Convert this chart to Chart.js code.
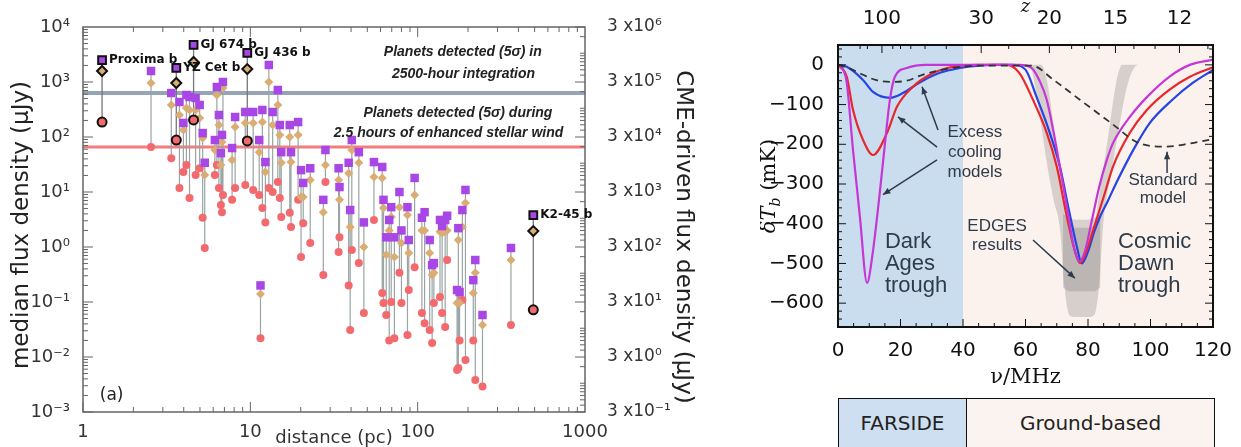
<!DOCTYPE html>
<html lang="en">
<head>
<meta charset="UTF-8" />
<title>Exoplanet radio flux and the 21-cm troughs</title>
<script src="https://cdn.jsdelivr.net/npm/chart.js"></script>
<style>
  body {
    margin: 0;
    width: 1241px;
    height: 447px;
    overflow: hidden;
    position: relative;
    background: #fff;
    font-family: "DejaVu Sans", sans-serif;
  }
  #fluxChart { position: absolute; left: 0; top: 0; }
  #tbChart { position: absolute; left: 760px; top: 0; }
  #bandBox {
    position: absolute;
    left: 838px; top: 398px;
    width: 377px; height: 60px;
    border: 1.5px solid #111;
    box-sizing: border-box;
    display: flex;
    font-size: 20px;
    color: #222;
  }
  #bandBox div { display: flex; justify-content: center; padding-top: 12px; }
  #farside { width: 127px; background: #cddff0; border-right: 1.5px solid #111; }
  #ground { flex: 1; background: #fbf3ef; }
</style>
</head>
<body>

<canvas id="fluxChart" width="720" height="447"></canvas>
<canvas id="tbChart" width="481" height="400"></canvas>

<!-- frequency bands covered by each experiment -->
<div id="bandBox">
  <div id="farside">FARSIDE</div>
  <div id="ground">Ground-based</div>
</div>

<script>
// ---------- left panel: planet radio flux vs distance ----------
const planetDist = [2.55, 3.37, 3.77, 3.98, 4.15, 4.33, 4.71, 4.98, 5.19, 5.34,
  6.14, 6.31, 6.49, 6.67, 6.77, 6.86, 7.78, 8.11, 9.33, 10.4,
  11.3, 11.5, 11.8, 12.3, 12.9, 13.6, 14.6, 15.0, 15.3, 17.2,
  17.5, 19.3, 20.1, 20.7, 22.8, 27.3, 28.1, 33.7, 34.1, 38.7,
  39.5, 40.4, 44.5, 47.7, 54.8, 61.4, 62.5, 64.9, 67.6, 69.5,
  72.6, 77.8, 80.0, 86.9, 88.5, 95.9, 106, 110, 118, 122,
  125, 136, 140, 146, 150, 172, 175, 178, 185, 193,
  215, 221, 244, 361];
const fluxHigh = [1585, 631, 433, 180, 580, 534, 512, 382, 118, 34,
  88, 811, 251, 51, 109, 1000, 63, 231, 285, 285,
  88, 0.20, 310, 35, 2040, 285, 716, 165, 53, 165,
  53, 187, 25, 14.6, 27, 7.2, 58, 27, 12.3, 34,
  4.7, 88, 53, 2.8, 35, 28.5, 7.2, 1.5, 3.1, 5.3,
  1.5, 10, 2.0, 5.3, 1.34, 18, 3.4, 4.3, 1.34, 0.47,
  0.51, 3.1, 2.4, 3.1, 3.7, 0.165, 2.2, 0.152, 4.7, 10.9,
  0.25, 0.58, 0.058, 0.96];
const fluxMid = [959, 382, 251, 134, 337, 310, 310, 222, 96, 20.4,
  58, 580, 165, 31, 81, 778, 38, 152, 180, 180,
  53, 0.14, 187, 23, 1000, 165, 382, 109, 34, 100,
  35, 109, 8.1, 8.1, 16.5, 4.3, 31, 16.5, 7.2, 22,
  2.3, 58, 34, 1.0, 18.7, 18, 5.1, 0.72, 2.0, 3.5,
  0.66, 5.3, 1.18, 3.8, 0.78, 8.8, 2.0, 2.0, 0.78, 0.31,
  0.34, 1.9, 1.8, 1.9, 2.0, 0.096, 1.34, 0.096, 2.3, 6.3,
  0.146, 0.34, 0.038, 0.58];
const fluxLow = [66, 41, 11.8, 23, 31, 7.8, 20.4, 27, 3.4, 0.96,
  20.4, 31, 11.8, 5.8, 4.3, 8.8, 7.2, 11.8, 13.4, 10.9,
  8.8, 0.022, 5.1, 2.8, 11.8, 10, 15.2, 7.8, 3.5, 4.2,
  2.3, 7.2, 0.66, 2.7, 1.18, 0.31, 15.2, 0.81, 1.5, 0.20,
  0.031, 0.88, 0.51, 0.063, 3.1, 0.146, 0.096, 0.058, 0.020, 0.1,
  0.022, 0.34, 0.096, 0.025, 0.165, 0.43, 0.063, 0.041, 0.031, 0.018,
  0.096, 0.123, 0.063, 0.035, 0.58, 0.0058, 0.0063, 0.020, 0.109, 0.0088,
  0.020, 0.0038, 0.0029, 0.038];

// named planets, drawn with black outlines
const namedPlanets = ['Proxima b', 'YZ Cet b', 'GJ 674 b', 'GJ 436 b', 'K2-45 b'];
const namedDist = [1.30, 3.61, 4.58, 9.59, 491];
const namedHigh = [2510, 1800, 4710, 3370, 3.8];
const namedMid = [1585, 959, 2310, 1720, 1.95];
const namedLow = [187, 88, 204, 85, 0.072];

// detection thresholds (uJy)
const limit2500h = 630;
const limitCME = 66;

const distTicks = [1, 10, 100, 1000];
const fluxTicks = [1e-3, 1e-2, 1e-1, 1, 10, 100, 1e3, 1e4];
const cmeTicks = [0.3, 3, 30, 300, 3e3, 3e4, 3e5, 3e6];

// ---------- right panel: global 21-cm signal ----------
const nuStd = [0, 4, 8, 12, 16.6, 22, 27, 35, 45, 62, 69, 77.4, 88, 95.7, 105, 112.6, 120];
const tStd = [0, -10, -25, -38, -43, -40, -25, -10, -2, -2, -38, -88, -150, -195, -206, -198, -187];

const nuRed = [0, 2.8, 4.8, 8, 11.2, 15.7, 18.9, 24, 29.4, 35, 45, 54, 58, 62.4, 66.8, 70, 73, 75.5,
  77.4, 79.5, 81.5, 83, 85.5, 88, 93.4, 98.9, 106, 112.6, 120];
const tRed = [0, -30, -113, -189, -227, -171, -105, -55, -25, -8, 0, 0, -20, -88, -171, -256, -373, -460,
  -499, -470, -420, -383, -320, -256, -171, -113, -63, -30, -6];

const nuBlue = [0, 2.8, 8, 11.2, 16.6, 20.8, 26, 32.6, 39, 45, 50, 56, 60, 63.5, 67.5, 71, 74, 76.5,
  78, 80, 82, 84, 86.5, 89, 94.5, 99.8, 107, 113.6, 120];
const tBlue = [0, -5, -38, -68, -83, -71, -45, -20, -8, -2, 0, 0, -12, -80, -165, -256, -370, -460,
  -500, -470, -420, -380, -340, -298, -214, -146, -88, -45, -13];

const nuMagenta = [0, 1.5, 2.8, 4.8, 7, 9.3, 11, 13.4, 15, 16.6, 18.2, 22, 28, 58, 62, 64.5, 66.8, 69,
  71, 73.5, 75.5, 77.3, 79, 81, 83.5, 86, 88, 93.4, 99, 106, 112.6, 120];
const tMagenta = [0, -10, -45, -214, -382, -549, -480, -320, -200, -88, -30, -8, 0, 0, -8, -40, -88, -170,
  -256, -370, -460, -495, -470, -400, -310, -240, -197, -131, -80, -30, 0, 13];

// EDGES result, spread of the fitted flattened troughs
const nuEdges = [60, 61.5, 63, 65, 67, 69, 71, 72.5, 74, 76, 78, 80, 82, 83.5, 85, 87, 89, 91, 93, 95, 96];
const edgesShallow = [0, 0, 0, 0, -45, -150, -260, -340, -395, -410, -410, -410, -400, -330, -255, -150, -45, 0, 0, 0, 0];
const edgesDeep = [0, -5, -50, -150, -255, -340, -410, -560, -630, -635, -635, -635, -630, -560, -390, -290, -200, -110, -40, -5, 0];
const nuEdgesCore = [72, 74, 76, 78, 80, 82, 84];
const edgesCoreTop = [-375, -385, -390, -390, -390, -385, -375];
const edgesCoreBottom = [-560, -570, -570, -570, -570, -570, -560];

const farsideEdge = 40;   // MHz
const nuTicks = [0, 20, 40, 60, 80, 100, 120];
const tbTicks = [0, -100, -200, -300, -400, -500, -600];
const zTicks = [100, 30, 20, 15, 12];
const zMinor = [200, 150, 80, 70, 60, 50, 40, 25, 18, 17, 16, 14, 13, 11];

const pts = (xs, ys) => xs.map((x, i) => ({ x: x, y: ys[i] }));

const SUP = { '-': '\u207b', '0': '\u2070', '1': '\u00b9', '2': '\u00b2', '3': '\u00b3',
  '4': '\u2074', '5': '\u2075', '6': '\u2076', '7': '\u2077', '8': '\u2078', '9': '\u2079' };
const sup = n => String(n).split('').map(c => SUP[c]).join('');
const expOf = v => Math.round(Math.log10(v));

// vertical stems joining the three estimates of each planet
function stems(dist, hi, lo) {
  const out = [];
  dist.forEach((d, i) => { out.push({ x: d, y: hi[i] }, { x: d, y: lo[i] }, { x: d, y: null }); });
  return out;
}

const purple = '#a846e6', tan = '#d9ad74', salmon = '#f36a6e';

function rotatedText(ctx, text, cx, cy, angle, font) {
  ctx.save();
  ctx.translate(cx, cy);
  ctx.rotate(angle);
  ctx.font = font;
  ctx.textAlign = 'center';
  ctx.textBaseline = 'middle';
  ctx.fillText(text, 0, 0);
  ctx.restore();
}

const fluxDecor = {
  id: 'fluxDecor',
  afterDatasetsDraw(chart) {
    const { ctx, chartArea: a, scales: { x, y, y2 } } = chart;
    ctx.save();
    ctx.strokeStyle = '#666';
    ctx.lineWidth = 1.5;
    ctx.strokeRect(a.left, a.top, a.right - a.left, a.bottom - a.top);
    ctx.lineWidth = 1;
    const tick = (x1, y1, x2, y2_) => { ctx.beginPath(); ctx.moveTo(x1, y1); ctx.lineTo(x2, y2_); ctx.stroke(); };
    for (let e = 0; e < 3; e++) {
      for (let m = 1; m <= 9; m++) {
        const px = x.getPixelForValue(m * Math.pow(10, e));
        const len = m === 1 ? 10 : 5;
        tick(px, a.bottom, px, a.bottom - len);
        tick(px, a.top, px, a.top + len);
      }
    }
    for (let e = -3; e < 4; e++) {
      for (let m = 1; m <= 9; m++) {
        const py = y.getPixelForValue(m * Math.pow(10, e));
        tick(a.left, py, a.left + (m === 1 ? 10 : 5), py);
      }
    }
    for (let e = -1; e < 7; e++) {
      for (let m = 1; m <= 9; m++) {
        const v = m * Math.pow(10, e);
        if (v < 0.3 || v > 3e6) continue;
        const py = y2.getPixelForValue(v);
        tick(a.right, py, a.right - (m === 3 ? 10 : 5), py);
      }
    }

    // planet names
    ctx.fillStyle = '#111';
    ctx.font = 'bold 12px "DejaVu Sans"';
    ctx.textBaseline = 'middle';
    namedPlanets.forEach((n, i) => {
      ctx.fillText(n, x.getPixelForValue(namedDist[i]) + 7, y.getPixelForValue(namedHigh[i]));
    });

    // threshold notes
    ctx.font = 'italic bold 14px "Liberation Sans"';
    ctx.fillStyle = '#222';
    ctx.textAlign = 'center';
    const notes = [
      ['Planets detected (5\u03c3) in', 186, 3500],
      ['2500-hour integration', 188, 1400],
      ['Planets detected (5\u03c3) during', 174, 273],
      ['2.5 hours of enhanced stellar wind', 153, 118]
    ];
    notes.forEach(([t, d, f]) => ctx.fillText(t, x.getPixelForValue(d), y.getPixelForValue(f)));

    ctx.textAlign = 'left';
    ctx.font = '17px "DejaVu Sans"';
    ctx.fillText('(a)', x.getPixelForValue(1.26), y.getPixelForValue(0.002));

    // axis titles
    ctx.fillStyle = '#222';
    rotatedText(ctx, 'median flux density (\u03bcJy)', 22, 225, -Math.PI / 2, '23px "DejaVu Sans"');
    rotatedText(ctx, 'CME-driven flux density (\u03bcJy)', 683, 237, Math.PI / 2, '23px "DejaVu Sans"');
    ctx.restore();
  }
};

new Chart(document.getElementById('fluxChart'), {
  type: 'scatter',
  data: {
    datasets: [
      { data: pts(namedDist, namedHigh), pointStyle: 'rect', pointRadius: 5.5, backgroundColor: purple, borderColor: '#111', borderWidth: 2 },
      { data: pts(namedDist, namedMid), pointStyle: 'rectRot', pointRadius: 5, backgroundColor: tan, borderColor: '#111', borderWidth: 2 },
      { data: pts(namedDist, namedLow), pointStyle: 'circle', pointRadius: 4.5, backgroundColor: salmon, borderColor: '#111', borderWidth: 2 },
      { data: pts(planetDist, fluxHigh), pointStyle: 'rect', pointRadius: 6, backgroundColor: purple, borderWidth: 0 },
      { data: pts(planetDist, fluxMid), pointStyle: 'rectRot', pointRadius: 4.5, backgroundColor: tan, borderWidth: 0 },
      { data: pts(planetDist, fluxLow), pointStyle: 'circle', pointRadius: 4, backgroundColor: salmon, borderWidth: 0 },
      { data: stems(namedDist, namedHigh, namedLow), showLine: true, spanGaps: false, pointRadius: 0, borderColor: '#777', borderWidth: 1.3 },
      { data: stems(planetDist, fluxHigh, fluxLow), showLine: true, spanGaps: false, pointRadius: 0, borderColor: '#9aa4a4', borderWidth: 1.2 },
      { data: [{ x: 1, y: limitCME }, { x: 1000, y: limitCME }], showLine: true, pointRadius: 0, borderColor: '#f47c7c', borderWidth: 3 },
      { data: [{ x: 1, y: limit2500h }, { x: 1000, y: limit2500h }], showLine: true, pointRadius: 0, borderColor: '#97a3b6', borderWidth: 4 }
    ]
  },
  options: {
    responsive: false,
    animation: false,
    layout: { padding: { top: 27, left: 0, right: 0, bottom: 0 } },
    plugins: { legend: { display: false }, tooltip: { enabled: false } },
    scales: {
      x: {
        type: 'logarithmic', min: 1, max: 1000,
        afterBuildTicks: s => { s.ticks = distTicks.map(v => ({ value: v })); },
        afterFit: s => { s.height = 35; },
        grid: { display: false },
        border: { display: false },
        ticks: { autoSkip: false, maxRotation: 0, padding: 2, color: '#333', font: { family: 'DejaVu Sans', size: 18 }, callback: v => String(v) },
        title: { display: true, text: 'distance (pc)', color: '#333', font: { family: 'DejaVu Sans', size: 18 }, padding: { top: 0, bottom: -2 } }
      },
      y: {
        type: 'logarithmic', min: 1e-3, max: 1e4,
        afterBuildTicks: s => { s.ticks = fluxTicks.map(v => ({ value: v })); },
        afterFit: s => { s.width = 83; },
        grid: { display: false },
        border: { display: false },
        ticks: { autoSkip: false, padding: 5, color: '#333', font: { family: 'DejaVu Sans', size: 18 }, callback: v => '10' + sup(expOf(v)) }
      },
      y2: {
        type: 'logarithmic', position: 'right', min: 0.3, max: 3e6,
        afterBuildTicks: s => { s.ticks = cmeTicks.map(v => ({ value: v })); },
        afterFit: s => { s.width = 135; },
        grid: { display: false },
        border: { display: false },
        ticks: { autoSkip: false, padding: 14, color: '#333', font: { family: 'DejaVu Sans', size: 17 }, callback: v => '3 x10' + sup(expOf(v / 3)) }
      }
    }
  },
  plugins: [fluxDecor]
});

// ---------- right chart ----------
function arrow(ctx, x1, y1, x2, y2) {
  ctx.beginPath(); ctx.moveTo(x1, y1); ctx.lineTo(x2, y2); ctx.stroke();
  const ang = Math.atan2(y2 - y1, x2 - x1), h = 8;
  ctx.beginPath();
  ctx.moveTo(x2, y2);
  ctx.lineTo(x2 - h * Math.cos(ang - 0.4), y2 - h * Math.sin(ang - 0.4));
  ctx.lineTo(x2 - h * Math.cos(ang + 0.4), y2 - h * Math.sin(ang + 0.4));
  ctx.closePath(); ctx.fill();
}

const tbShade = {
  id: 'tbShade',
  beforeDatasetsDraw(chart) {
    const { ctx, chartArea: a, scales: { x } } = chart;
    const edge = x.getPixelForValue(farsideEdge);
    ctx.save();
    ctx.fillStyle = '#c9ddef';
    ctx.fillRect(a.left, a.top, edge - a.left, a.bottom - a.top);
    ctx.fillStyle = '#fbf2ee';
    ctx.fillRect(edge, a.top, a.right - edge, a.bottom - a.top);
    ctx.restore();
  }
};

const tbDecor = {
  id: 'tbDecor',
  afterDatasetsDraw(chart) {
    const { ctx, chartArea: a, scales: { x, y } } = chart;
    ctx.save();
    ctx.strokeStyle = '#111';
    ctx.lineWidth = 1;
    const tick = (x1, y1, x2, y2) => { ctx.beginPath(); ctx.moveTo(x1, y1); ctx.lineTo(x2, y2); ctx.stroke(); };
    for (let v = 0; v <= 120; v += 5) {
      const px = x.getPixelForValue(v);
      tick(px, a.bottom, px, a.bottom - (v % 20 === 0 ? 8 : 4));
    }
    for (let v = -660; v <= 40; v += 20) {
      const py = y.getPixelForValue(v);
      const len = v % 100 === 0 ? 8 : 4;
      tick(a.left, py, a.left + len, py);
      tick(a.right, py, a.right - len, py);
    }
    zTicks.forEach(z => { const px = x.getPixelForValue(1420.4 / (1 + z)); tick(px, a.top, px, a.top + 8); });
    zMinor.forEach(z => { const px = x.getPixelForValue(1420.4 / (1 + z)); tick(px, a.top, px, a.top + 4); });
    ctx.lineWidth = 2;
    ctx.strokeRect(a.left, a.top, a.right - a.left, a.bottom - a.top);

    // annotations (nu, T)
    const P = (nu, t) => [x.getPixelForValue(nu), y.getPixelForValue(t)];
    ctx.fillStyle = '#2e3b4a';
    ctx.strokeStyle = '#2e3b4a';
    ctx.lineWidth = 1.5;
    [[[32, -164], [26.9, -55]], [[31.7, -207], [19.2, -131]], [[31.7, -239], [14.4, -327]],
     [[105.3, -272], [105.3, -219]], [[62.4, -441], [75.8, -537]]].forEach(([s, e]) => {
      const [x1, y1] = P(...s), [x2, y2] = P(...e);
      arrow(ctx, x1, y1, x2, y2);
    });
    ctx.textBaseline = 'middle';
    ctx.textAlign = 'center';
    ctx.font = '17px "Liberation Sans"';
    [['Excess', 43.8, -169], ['cooling', 43.8, -219], ['models', 43.8, -270],
     ['Standard', 104, -290], ['model', 104, -335],
     ['EDGES', 50.9, -406], ['results', 50.9, -454]].forEach(([t, nu, v]) => ctx.fillText(t, ...P(nu, v)));
    ctx.textAlign = 'left';
    ctx.font = '22px "Liberation Sans"';
    [['Dark', 15, -446], ['Ages', 15, -501], ['trough', 15, -557],
     ['Cosmic', 89.6, -446], ['Dawn', 89.6, -501], ['trough', 89.6, -557]].forEach(([t, nu, v]) => ctx.fillText(t, ...P(nu, v)));
    ctx.restore();

    // y-axis title with subscript, left of the tick labels
    ctx.save();
    ctx.translate(10, (a.top + a.bottom) / 2);
    ctx.rotate(-Math.PI / 2);
    ctx.fillStyle = '#111';
    ctx.textAlign = 'left';
    ctx.textBaseline = 'middle';
    ctx.font = 'italic 21px "DejaVu Serif"';
    const w1 = ctx.measureText('\u03b4T').width;
    ctx.font = 'italic 14px "DejaVu Serif"';
    const w2 = ctx.measureText('b').width;
    ctx.font = '21px "DejaVu Serif"';
    const w3 = ctx.measureText(' (mK)').width;
    const x0 = -(w1 + w2 + w3) / 2;
    ctx.font = 'italic 21px "DejaVu Serif"';
    ctx.fillText('\u03b4T', x0, 0);
    ctx.font = 'italic 14px "DejaVu Serif"';
    ctx.fillText('b', x0 + w1, 6);
    ctx.font = '21px "DejaVu Serif"';
    ctx.fillText(' (mK)', x0 + w1 + w2, 0);
    ctx.restore();
  }
};

const curve = (xs, ys, color, extra) => Object.assign({
  data: pts(xs, ys), showLine: true, pointRadius: 0, borderColor: color, borderWidth: 2.2,
  cubicInterpolationMode: 'monotone'
}, extra || {});

new Chart(document.getElementById('tbChart'), {
  type: 'scatter',
  data: {
    datasets: [
      curve(nuStd, tStd, '#333', { borderDash: [7, 5], borderWidth: 1.8 }),
      curve(nuMagenta, tMagenta, '#c636d6'),
      curve(nuRed, tRed, '#e8262b'),
      curve(nuBlue, tBlue, '#2444e6'),
      curve(nuEdgesCore, edgesCoreTop, 'rgba(0,0,0,0)', { borderWidth: 0, fill: '+1', backgroundColor: 'rgba(90,90,90,0.22)' }),
      curve(nuEdgesCore, edgesCoreBottom, 'rgba(0,0,0,0)', { borderWidth: 0 }),
      curve(nuEdges, edgesShallow, 'rgba(0,0,0,0)', { borderWidth: 0, fill: '+1', backgroundColor: 'rgba(110,110,110,0.26)' }),
      curve(nuEdges, edgesDeep, 'rgba(0,0,0,0)', { borderWidth: 0 })
    ]
  },
  options: {
    responsive: false,
    animation: false,
    layout: { padding: { top: 0, left: 0, right: 28, bottom: 0 } },
    plugins: { legend: { display: false }, tooltip: { enabled: false } },
    scales: {
      x: {
        type: 'linear', min: 0, max: 120,
        afterBuildTicks: s => { s.ticks = nuTicks.map(v => ({ value: v })); },
        afterFit: s => { s.height = 73; },
        grid: { display: false },
        border: { display: false },
        ticks: { padding: 4, color: '#111', font: { family: 'DejaVu Sans', size: 20 } },
        title: { display: true, text: '\u03bd/MHz', color: '#111', font: { family: 'DejaVu Serif', size: 21 }, padding: { top: 0, bottom: 10 } }
      },
      x2: {
        type: 'linear', position: 'top', min: 0, max: 120,
        afterBuildTicks: s => { s.ticks = zTicks.map(z => ({ value: 1420.4 / (1 + z) })); },
        afterFit: s => { s.height = 45; },
        grid: { display: false },
        border: { display: false },
        ticks: { padding: 6, color: '#111', font: { family: 'DejaVu Sans', size: 20 }, callback: (v, i) => String(zTicks[i]) },
        title: { display: true, text: 'z', color: '#111', font: { family: 'DejaVu Serif', size: 18, style: 'italic' }, padding: { top: -3, bottom: 0 } }
      },
      y: {
        type: 'linear', min: -660, max: 50,
        afterBuildTicks: s => { s.ticks = tbTicks.map(v => ({ value: v })); },
        afterFit: s => { s.width = 78; },
        grid: { display: false },
        border: { display: false },
        ticks: { padding: 6, color: '#111', font: { family: 'DejaVu Sans', size: 20 }, callback: v => (v < 0 ? '\u2212' + Math.abs(v) : String(v)) }
      }
    }
  },
  plugins: [tbShade, tbDecor]
});
</script>
</body>
</html>
